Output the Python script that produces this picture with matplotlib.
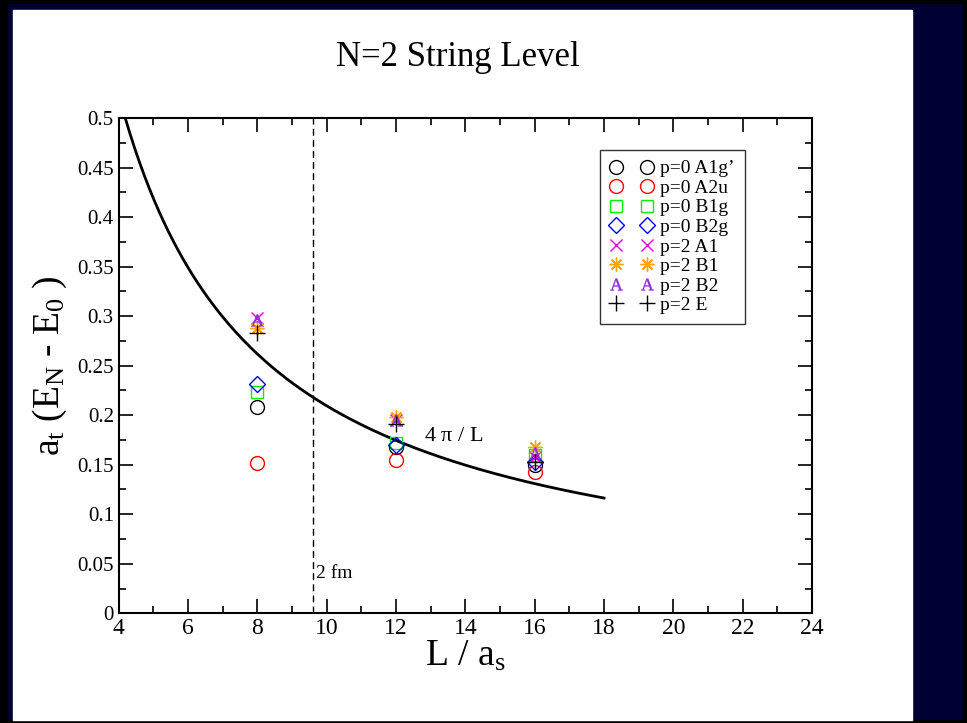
import numpy as np
import matplotlib
matplotlib.use('Agg')
import matplotlib.pyplot as plt
from matplotlib.patches import Rectangle
from matplotlib.ticker import MultipleLocator

plt.rcParams['font.family'] = ['Liberation Serif', 'DejaVu Serif']
plt.rcParams['mathtext.fontset'] = 'custom'
plt.rcParams['mathtext.rm'] = 'Liberation Serif'
plt.rcParams['mathtext.it'] = 'Liberation Serif:italic'

# lattice sizes and energy gaps for each irrep
L_vals = [8, 12, 16]
p0_A1g = [0.208, 0.168, 0.150]
p0_A2u = [0.152, 0.155, 0.143]
p0_B1g = [0.223, 0.172, 0.160]
p0_B2g = [0.231, 0.170, 0.153]
p2_A1 = [0.298, 0.195, 0.158]
p2_B1 = [0.288, 0.198, 0.168]
p2_B2 = [0.296, 0.195, 0.162]
p2_E = [0.283, 0.191, 0.153]

# 4 pi / L string curve (anisotropy 6)
xi = 6.0
L_curve = np.linspace(4 * np.pi / (xi * 0.5), 18, 200)
E_curve = 4 * np.pi / (xi * L_curve)

fig = plt.figure(figsize=(9.67, 7.23), dpi=100)
fig.patch.set_facecolor('#000035')
W, H = 967.0, 723.0
# dark slide border with white panel
for x0, y0, w, h, c in [(0, 0, 7 / W, 1, 'black'),
                        (0, 0, 1, 3 / H, 'black'),
                        (0, 1 - 3 / H, 1, 3 / H, 'black'),
                        (1 - 4 / W, 0, 4 / W, 1, 'black'),
                        (13 / W, 3 / H, (912 - 13) / W, (720 - 10) / H, 'white')]:
    fig.patches.append(Rectangle((x0, y0), w, h, transform=fig.transFigure,
                                 color=c, zorder=-10))

ax = fig.add_axes([118.7 / W, 1 - 613.3 / H, (812 - 118.7) / W, (613.3 - 118) / H])

ax.plot(L_curve, E_curve, color='black', lw=2)
ax.axvline(9.6, color='black', lw=1, ls=(0, (5, 3)))

ms = 10
ax.plot(L_vals, p0_A1g, 'o', mfc='none', mec='black', ms=ms, mew=1, label='p=0 A1g’')
ax.plot(L_vals, p0_A2u, 'o', mfc='none', mec='red', ms=ms, mew=1, label='p=0 A2u')
ax.plot(L_vals, p0_B1g, 's', mfc='none', mec='#00ee00', ms=ms - 1, mew=1, label='p=0 B1g')
ax.plot(L_vals, p0_B2g, 'D', mfc='none', mec='blue', ms=ms - 2, mew=1, label='p=0 B2g')
ax.plot(L_vals, p2_A1, 'x', color='#ee00ee', ms=ms - 2, mew=1, label='p=2 A1')
ax.plot(L_vals, p2_B1, ls='none', marker=(8, 2, 0), color='#ffa500', ms=ms, mew=1, label='p=2 B1')
ax.plot(L_vals, p2_B2, ls='none', marker=r'$\mathregular{A}$', color='#8a2be2', ms=ms - 1,
        mew=0.3, label='p=2 B2')
ax.plot(L_vals, p2_E, '+', color='black', ms=ms + 2, mew=1, label='p=2 E')

ax.text(12.8, 0.178, r'4 $\mathregular{\pi}$ / L', fontsize=16, va='center', ha='left')
ax.text(9.7, 0.04, '2 fm', fontsize=14, va='center', ha='left')

ax.set_xlim(4, 24)
ax.set_ylim(0, 0.5)
ax.xaxis.set_major_locator(MultipleLocator(2))
ax.xaxis.set_minor_locator(MultipleLocator(1))
ax.yaxis.set_minor_locator(MultipleLocator(0.025))
ax.set_yticks(np.arange(0, 0.501, 0.05))
ax.set_yticklabels(['0', '0.05', '0.1', '0.15', '0.2', '0.25', '0.3', '0.35', '0.4', '0.45', '0.5'])
ax.tick_params(which='both', direction='in', top=True, right=True, width=1.2)
ax.tick_params(axis='y', labelsize=15)
ax.tick_params(axis='x', labelsize=17)
ax.tick_params(which='major', length=10)
ax.tick_params(which='minor', length=5)
for sp in ax.spines.values():
    sp.set_linewidth(1.5)

ax.set_xlabel(r'L / a$_\mathregular{s}$', fontsize=27, labelpad=0)
ax.set_ylabel(r'a$_\mathregular{t}$ (E$_\mathregular{N}$ - E$_\mathregular{0}$ )', fontsize=27, labelpad=6)

fig.text(458 / W, 1 - 58 / H, 'N=2 String Level', fontsize=25, ha='center', va='center')

leg = ax.legend(loc='upper left', bbox_to_anchor=(600 / W, 1 - 150 / H),
                bbox_transform=fig.transFigure, numpoints=2, fontsize=14,
                frameon=True, fancybox=False, edgecolor='black', handlelength=2.2,
                handletextpad=0.4, labelspacing=0.1, borderpad=0.5, borderaxespad=0)
leg.get_frame().set_linewidth(1)

fig.savefig('out.png', dpi=100, facecolor=fig.get_facecolor())
